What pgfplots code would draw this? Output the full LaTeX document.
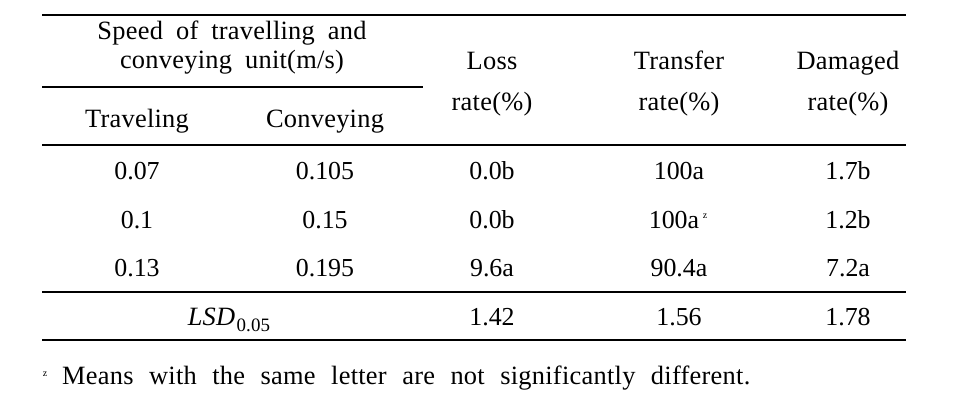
\documentclass[border=0pt]{standalone}
\usepackage{fontspec}
\setmainfont{Liberation Serif}
\newfontfamily\hdrfont[LetterSpace=1]{Liberation Serif}
\newcommand\hdr{\hdrfont\fontsize{26.5}{30}\selectfont\spaceskip=13bp\relax}
\newcommand\ftn{\hdrfont\fontsize{26.5}{30}\selectfont\spaceskip=15.5bp\relax}
\usepackage{pgfplots}
\pgfplotsset{compat=1.18}
\begin{document}
\begin{tikzpicture}
\begin{axis}[
  width=975bp, height=408bp, scale only axis,
  xmin=0, xmax=975, ymin=0, ymax=408, y dir=reverse,
  hide axis, clip=false,
]
\path (axis cs:0,0) rectangle (axis cs:975,408);
% rules
\draw[line width=1.3bp] (axis cs:42,15) -- (axis cs:906,15);
\draw[line width=1.1bp] (axis cs:42,87) -- (axis cs:423,87);
\draw[line width=1.3bp] (axis cs:42,145) -- (axis cs:906,145);
\draw[line width=1.3bp] (axis cs:42,292) -- (axis cs:906,292);
\draw[line width=1.3bp] (axis cs:42,340) -- (axis cs:906,340);
% headers
\begin{scope}[every node/.style={anchor=base, inner sep=0pt, font=\hdr}]
\node at (axis cs:232,39) {Speed of travelling and};
\node at (axis cs:232,68) {conveying unit(m/s)};
\node at (axis cs:137,127) {Traveling};
\node at (axis cs:325,127) {Conveying};
\node at (axis cs:492,69) {Loss};
\node at (axis cs:492,110) {rate(\%)};
\node at (axis cs:679,69) {Transfer};
\node at (axis cs:679,110) {rate(\%)};
\node at (axis cs:848,69) {Damaged};
\node at (axis cs:848,110) {rate(\%)};
\node at (axis cs:229,325) {\textit{LSD}\kern1pt\raisebox{-6bp}{\fontsize{19}{20}\selectfont 0.05}};
\node[anchor=base west, font=\ftn] at (axis cs:62,384) {Means with the same letter are not significantly different.};
\node[anchor=base] at (axis cs:45,376) {\fontsize{10}{11}\selectfont z};
\node[anchor=base] at (axis cs:705,218) {\fontsize{10}{11}\selectfont z};
\end{scope}
% table values
\addplot[only marks, mark=none, point meta=explicit symbolic,
  nodes near coords, nodes near coords align={center},
  every node near coord/.append style={anchor=base, inner sep=0pt, font=\fontsize{26}{30}\selectfont}]
  table[meta=label] {
x y label
137 179 0.07
325 179 0.105
492 179 0.0b
679 179 100a
848 179 1.7b
137 228 0.1
325 228 0.15
492 228 0.0b
674 228 100a
848 228 1.2b
137 276 0.13
325 276 0.195
492 276 9.6a
679 276 90.4a
848 276 7.2a
492 325 1.42
679 325 1.56
848 325 1.78
};
\end{axis}
\end{tikzpicture}
\end{document}
